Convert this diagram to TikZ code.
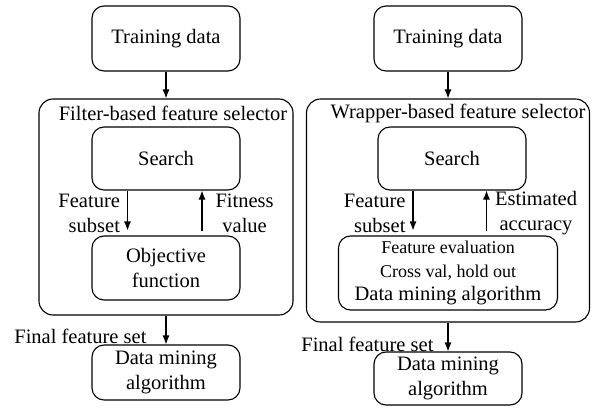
\documentclass[tikz,border=0pt]{standalone}
\usepackage{fontspec}
\setmainfont{Liberation Serif}
\usepackage{tikz}
\usetikzlibrary{arrows.meta}
\tikzset{
    block/.style={
           rectangle,
           rounded corners=12pt,
           draw=black, line width=1.1pt,
           minimum width=148pt,
           inner sep=2pt,
           align=center,
           font=\fontsize{20.5}{25}\selectfont,
           },
    frame/.style={
           rectangle,
           rounded corners=14pt,
           draw=black, line width=1.1pt,
           },
    lbl/.style={
           font=\fontsize{20.5}{25}\selectfont,
           inner sep=1pt,
           },
}

\begin{document}
\begin{tikzpicture}[->,>={Latex[length=9pt,width=7pt]},x=1pt,y=-1pt,line width=1.1pt]
  \useasboundingbox (0,0) rectangle (600,409);

  % filter side
  \node[block, minimum height=65pt] (TD1) at (166,38.5) {Training data};
  \node[frame,
 below of=TD1,
 node distance=168.5pt,
 minimum width=254pt, minimum height=216pt] (FS1) {};
  \node[lbl] (FT1) at (173,113) {Filter-based feature selector};
  \node[block,
 below of=TD1,
 node distance=120pt,
 minimum height=63pt] (SE1) {Search};
  \node[block,
 below of=SE1,
 node distance=109.5pt,
 minimum height=64pt] (OF1) {Objective\\function};
  \node[block,
 below of=OF1,
 node distance=104.5pt,
 minimum height=55pt] (DM1) {Data mining\\algorithm};

  % wrapper side
  \node[block, minimum height=65pt] (TD2) at (448,38.5) {Training data};
  \node[frame,
 below of=TD2,
 node distance=172pt,
 minimum width=283pt, minimum height=223pt] (WS2) {};
  \node[lbl] (WT2) at (458,113) {Wrapper-based feature selector};
  \node[block,
 below of=TD2,
 node distance=120pt,
 xshift=4pt,
 minimum height=63pt] (SE2) {Search};
  \node[block,
 below of=TD2,
 node distance=234.5pt,
 minimum width=219pt, minimum height=74pt,
 font=\fontsize{18}{23.5}\selectfont] (FE2)
 {Feature evaluation\\Cross val, hold out\\\fontsize{20.5}{23.5}\selectfont Data mining algorithm};
  \node[block,
 below of=FE2,
 node distance=105.5pt,
 minimum height=53pt] (DM2) {Data mining\\algorithm};

 % the arrows with their labels
\path
  (TD1) edge (FS1)
  (FS1) edge
    node[lbl, left, xshift=-18pt, yshift=-6pt] {Final feature set}
    (DM1)
  (TD2) edge (WS2)
  (WS2) edge
    node[lbl, left, xshift=-13pt, yshift=-7pt] {Final feature set}
    (DM2)
 ;
\draw[shorten >=5pt] ([xshift=-38.5pt]SE1.south) --
    node[lbl, left, align=right, xshift=-6pt] {Feature\\subset}
    ([xshift=-38.5pt]SE1.south |- OF1.north);
\draw[shorten <=4pt] ([xshift=36pt]OF1.north) --
    node[lbl, right, align=center, xshift=12pt] {Fitness\\value}
    ([xshift=36pt]OF1.north |- SE1.south);
\draw[shorten >=5pt] ([xshift=-39pt]SE2.south) --
    node[lbl, left, align=right, xshift=-6pt] {Feature\\subset}
    ([xshift=-39pt]SE2.south |- FE2.north);
\draw[shorten <=4pt] ([xshift=38.5pt]FE2.north) --
    node[lbl, right, align=center, xshift=7pt] {Estimated\\accuracy}
    ([xshift=38.5pt]FE2.north |- SE2.south);
\end{tikzpicture}
\end{document}
